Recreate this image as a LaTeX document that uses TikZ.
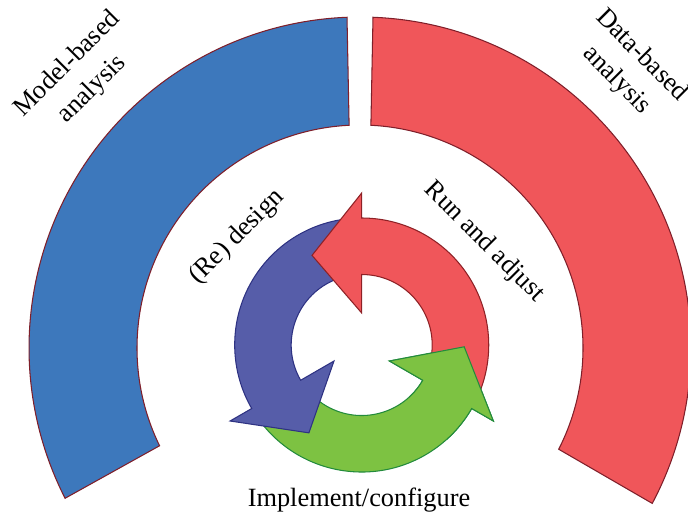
\documentclass[tikz,border=0pt]{standalone}
\usepackage{fontspec}
\setmainfont{Liberation Serif}
\usepackage{tikz}
\definecolor{modelblue}{HTML}{3D78BC}
\definecolor{datared}{HTML}{F0565A}
\definecolor{rimred}{HTML}{7F1F2A}
\definecolor{designblue}{HTML}{565DA9}
\definecolor{designrim}{HTML}{2E3282}
\definecolor{runrim}{HTML}{8E2126}
\definecolor{implgreen}{HTML}{7DC242}
\definecolor{implrim}{HTML}{238B3C}

\begin{document}
\begin{tikzpicture}[x=0.02cm,y=0.02cm]
                    \tikzstyle{every node}=[font=\fontsize{15}{20}\selectfont]
                    \tikzstyle{band} = [line width=0.6pt, draw=rimred]
                    \tikzstyle{modelband} = [band, fill=modelblue]
                    \tikzstyle{databand} = [band, fill=datared]
                    \tikzstyle{redesign} = [line width=0.6pt, draw=designrim, fill=designblue]
                    \tikzstyle{runadjust} = [line width=0.6pt, draw=runrim, fill=datared]
                    \tikzstyle{implement} = [line width=0.6pt, draw=implrim, fill=implgreen]
                    \tikzstyle{twoline} = [align=center, inner sep=0pt]

                    \useasboundingbox (0,0) rectangle (688,518);

                    % outer bands
                    \begin{scope}[shift={(360,170)}]
                    \draw[modelband] (92.25:331) arc[start angle=92.25, end angle=207, radius=331]
                        -- (206:223) arc[start angle=206, end angle=92.8, radius=223] -- cycle;
                    \draw[databand] (87.75:331) arc[start angle=87.75, end angle=-28, radius=331]
                        -- (-27:223) arc[start angle=-27, end angle=87.2, radius=223] -- cycle;
                    \end{scope}

                    % cycle arrows
                    \begin{scope}[shift={(361.7,173)}]
                    \foreach \back/\kind in {330/implement, 210/redesign, 450/runadjust}
                        \draw[\kind] (\back-117:127) arc[start angle=\back-117, end angle=\back, radius=127]
                            -- (\back:152) -- (\back+29:102.5) -- (\back:32) -- (\back:70.5)
                            arc[start angle=\back, end angle=\back-117, radius=70.5] -- cycle;
                    % green head over the red tail
                    \clip (0,0) -- (312:175) arc[start angle=312, end angle=372, radius=175] -- cycle;
                    \draw[implement] (213:127) arc[start angle=213, end angle=330, radius=127]
                        -- (330:152) -- (359:102.5) -- (330:32) -- (330:70.5)
                        arc[start angle=330, end angle=213, radius=70.5] -- cycle;
                    \end{scope}

                    \node[twoline, rotate=45](model) at (80,441) {Model-based\\analysis};
                    \node[twoline, rotate=-45](data) at (629,450) {Data-based\\analysis};
                    \node[rotate=45](design) at (237,281) {(Re) design};
                    \node[rotate=-45](run) at (484,276) {Run and adjust};
                    \node(impl) at (359,18) {Implement/configure};
\end{tikzpicture}
\end{document}
